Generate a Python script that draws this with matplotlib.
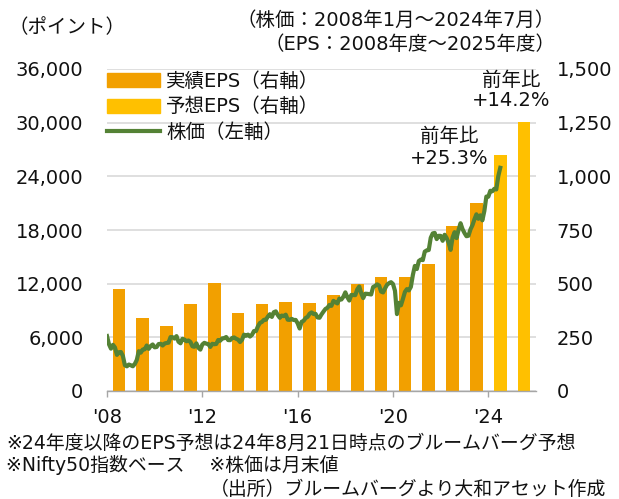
import matplotlib.pyplot as plt
from matplotlib.patches import Patch
from matplotlib.lines import Line2D
import numpy as np

plt.rcParams['font.family'] = ['DejaVu Sans', 'Noto Sans CJK JP']

# EPS (fiscal year 2008-2025), last two are forecasts
eps_years = list(range(2008, 2026))
eps_actual = [475, 339, 304, 404, 503, 362, 404, 413, 410, 446, 498, 532, 532, 592, 769, 877]
eps_forecast = [1099, 1255]

# Nifty 50 month-end, Jan 2008 - Jul 2024
nifty = [
    6140, 5224, 4735, 5166, 4870, 4040, 4333, 4360, 3921, 2885, 2755, 2959,
    2874, 2763, 3021, 3474, 4449, 4291, 4636, 4662, 5084, 4712, 5033, 5201,
    4882, 4922, 5249, 5278, 5087, 5313, 5368, 5402, 6030, 6018, 5863, 6135,
    5506, 5333, 5834, 5749, 5560, 5647, 5482, 5001, 4943, 5327, 4832, 4624,
    5199, 5385, 5296, 5248, 4924, 5279, 5229, 5259, 5703, 5620, 5880, 5905,
    6035, 5693, 5683, 5930, 5986, 5842, 5742, 5471, 5735, 6299, 6176, 6304,
    6090, 6277, 6704, 6696, 7230, 7611, 7721, 7954, 7965, 8322, 8588, 8283,
    8809, 8902, 8491, 8182, 8434, 8369, 8533, 7971, 7949, 8066, 7935, 7946,
    7564, 6987, 7738, 7850, 8160, 8288, 8639, 8786, 8611, 8626, 8224, 8186,
    8561, 8880, 9174, 9304, 9621, 9521, 10077, 9918, 9789, 10335, 10227, 10531,
    11028, 10493, 10114, 10739, 10736, 10714, 11357, 11681, 10930, 10387, 10877, 10863,
    10831, 10793, 11624, 11748, 11923, 11789, 11118, 11023, 11474, 11877, 12056, 12168,
    11962, 11202, 8598, 9860, 9580, 10302, 11073, 11388, 11248, 11642, 12969, 13982,
    13635, 14529, 14691, 14631, 15583, 15722, 15763, 17132, 17618, 17672, 16983, 17354,
    17340, 16794, 17465, 17103, 16585, 15780, 17158, 17759, 17094, 18012, 18758, 18105,
    17662, 17304, 17360, 18065, 18534, 19189, 19754, 19254, 19638, 19080, 20133, 21731,
    21726, 22383, 22327, 22605, 22531, 24011, 24951,
]

xtick_labels = ["'08", "'12", "'16", "'20", "'24"]

c_act = '#F2A000'
c_fc = '#FFC000'
c_line = '#548235'
c_text = '#111111'
W, H = 619, 499

fig = plt.figure(figsize=(W / 100, H / 100), dpi=100)
ax = fig.add_axes([107 / W, 1 - 391 / H, (536 - 107) / W, (391 - 69) / H])
ax2 = ax.twinx()

# bars on right axis
n_act = len(eps_actual)
xb = np.arange(len(eps_years)) + 0.5
ax2.bar(xb[:n_act], eps_actual, width=0.53, color=c_act, zorder=2)
ax2.bar(xb[n_act:], eps_forecast, width=0.53, color=c_fc, zorder=2)
ax2.set_ylim(0, 1500)
ax2.set_yticks(np.arange(0, 1501, 250))
ax2.set_yticklabels([f'{v:,}' for v in range(0, 1501, 250)])
ax2.grid(axis='y', color='#D9D9D9', lw=1.2, zorder=0)
ax2.set_axisbelow(True)

# line on left axis, drawn in front
xm = np.arange(len(nifty)) / 12
ax.plot(xm, nifty, color=c_line, lw=3.0, solid_joinstyle='round', zorder=3)
ax.set_ylim(0, 36000)
ax.set_yticks(np.arange(0, 36001, 6000))
ax.set_yticklabels([f'{v:,}' for v in range(0, 36001, 6000)])
ax.set_xlim(0, len(eps_years))
ax.set_xticks([0, 4, 8, 12, 16])
ax.set_xticklabels(xtick_labels)

ax.set_zorder(ax2.get_zorder() + 1)
ax.patch.set_visible(False)

for a in (ax, ax2):
    for s in ('top', 'left', 'right'):
        a.spines[s].set_visible(False)
ax2.spines['bottom'].set_visible(False)
ax.spines['bottom'].set_color('#A6A6A6')
ax.spines['bottom'].set_linewidth(1.0)

ax.tick_params(axis='x', direction='out', length=4.5, width=1, color='#A6A6A6',
               pad=8, labelsize=14, labelcolor=c_text)
ax.tick_params(axis='y', length=0, pad=17, labelsize=14, labelcolor=c_text)
ax2.tick_params(axis='y', length=0, pad=15, labelsize=14, labelcolor=c_text)

handles = [
    Patch(color=c_act, label='実績EPS（右軸）'),
    Patch(color=c_fc, label='予想EPS（右軸）'),
    Line2D([], [], color=c_line, lw=3.0, label='株価（左軸）'),
]
leg = ax.legend(handles=handles, loc='upper left', bbox_to_anchor=(0, 0.99),
                frameon=False, fontsize=14, handlelength=2.75, handleheight=0.72,
                handletextpad=0.3, labelspacing=0.32, borderaxespad=0, borderpad=0)
for t in leg.get_texts():
    t.set_color(c_text)


def ftext(x, y, s, **kw):
    kw.setdefault('fontsize', 14)
    kw.setdefault('color', c_text)
    fig.text(x / W, 1 - y / H, s, **kw)


ftext(8, 28, '（ポイント）', va='center', ha='left')
ftext(555, 20, '（株価：2008年1月～2024年7月）', va='center', ha='right')
ftext(555, 45, '（EPS：2008年度～2025年度）', va='center', ha='right')

ftext(449, 136, '前年比', va='center', ha='center')
ftext(449, 159, '+25.3%', va='center', ha='center')
ftext(511, 80, '前年比', va='center', ha='center')
ftext(511, 101, '+14.2%', va='center', ha='center')

ftext(6, 443, '※24年度以降のEPS予想は24年8月21日時点のブルームバーグ予想',
      va='center', ha='left', fontsize=13.6)
ftext(6, 465, '※Nifty50指数ベース　 ※株価は月末値', va='center', ha='left', fontsize=13.6)
ftext(606, 489, '（出所）ブルームバーグより大和アセット作成', va='center', ha='right',
      fontsize=13.6)

fig.savefig('out.png', dpi=100, facecolor='white')
